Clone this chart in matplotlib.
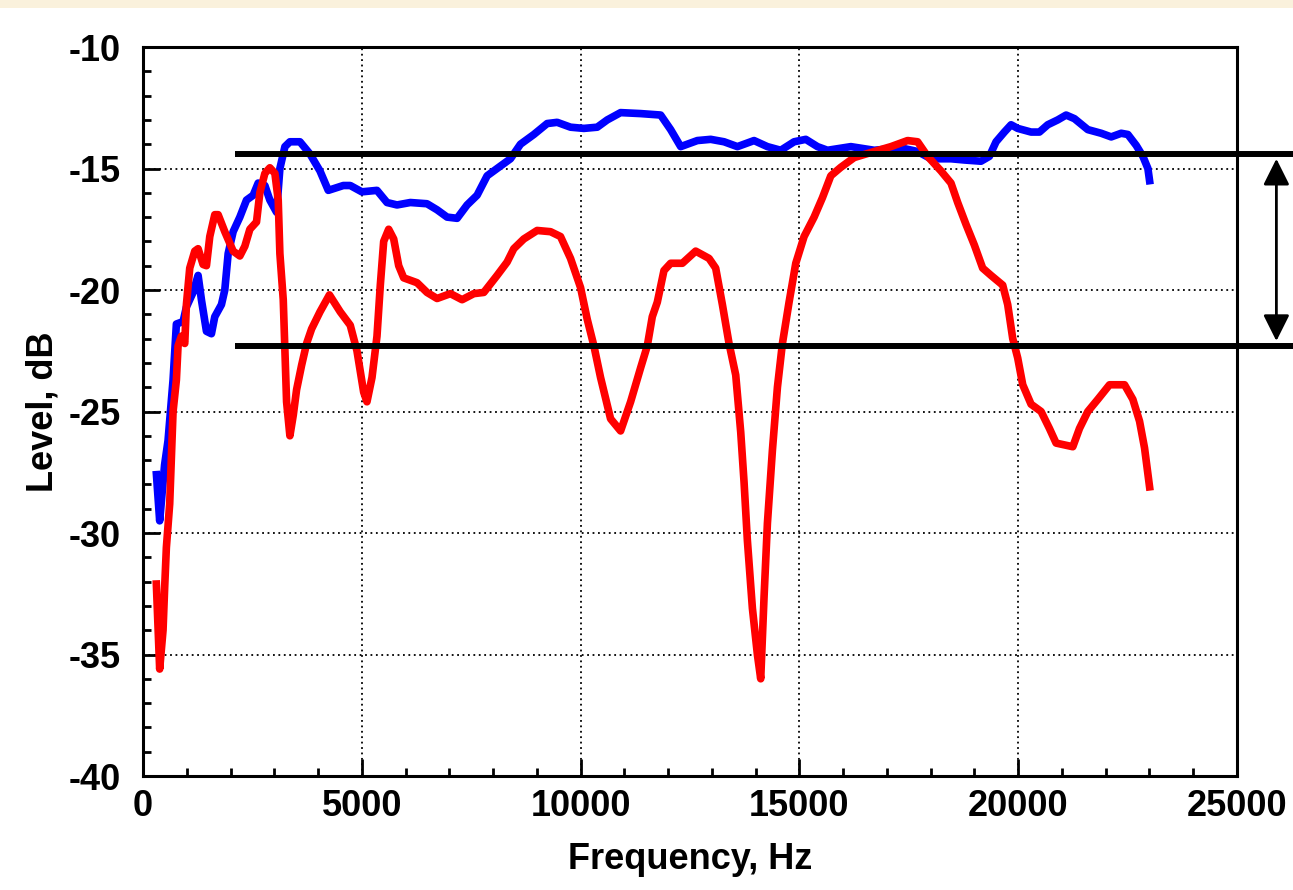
import numpy as np
import matplotlib
matplotlib.use('Agg')
import matplotlib.pyplot as plt
from matplotlib.ticker import MultipleLocator
from matplotlib.patches import Rectangle

plt.rcParams['font.family'] = ['Liberation Sans', 'DejaVu Sans']
plt.rcParams['font.weight'] = 'bold'
plt.rcParams['axes.unicode_minus'] = False

# blue trace (Hz, dB)
blue_f = [307, 381, 493, 572, 687, 763, 916, 992, 1144, 1259, 1335, 1450, 1564, 1640,
          1793, 1869, 1946, 2060, 2213, 2365, 2518, 2632, 2785, 2899, 3052, 3128, 3243,
          3357, 3586, 3815, 4044, 4234, 4578, 4736, 5000, 5347, 5576, 5805, 6109, 6490,
          6720, 6949, 7178, 7406, 7635, 7864, 8168, 8397, 8626, 8931, 9236, 9465, 9770,
          10075, 10380, 10609, 10914, 11371, 11829, 12058, 12287, 12668, 12973, 13278,
          13583, 13964, 14269, 14574, 14879, 15146, 15413, 15642, 16176, 16710, 17320,
          17701, 18006, 18464, 18769, 19150, 19341, 19494, 19684, 19837, 19989, 20294,
          20485, 20675, 20904, 21095, 21286, 21591, 21896, 22125, 22354, 22506, 22697,
          22849, 22964, 23002]
blue_db = [-27.6, -29.5, -27.2, -26.2, -23.7, -21.4, -21.3, -20.7, -20.1, -19.4, -20.4,
           -21.7, -21.8, -21.1, -20.6, -20.0, -18.5, -17.6, -17.0, -16.3, -16.1, -15.6,
           -15.7, -16.3, -16.8, -15.0, -14.1, -13.9, -13.9, -14.4, -15.1, -15.9, -15.7,
           -15.7, -15.96, -15.9, -16.4, -16.5, -16.4, -16.45, -16.7, -17.0, -17.05, -16.5,
           -16.1, -15.3, -14.9, -14.6, -14.0, -13.6, -13.15, -13.1, -13.3, -13.35, -13.3,
           -13.0, -12.7, -12.74, -12.8, -13.4, -14.1, -13.85, -13.8, -13.9, -14.1, -13.85,
           -14.1, -14.25, -13.9, -13.8, -14.1, -14.25, -14.1, -14.25, -14.15, -14.3, -14.6,
           -14.6, -14.65, -14.7, -14.5, -13.9, -13.5, -13.2, -13.35, -13.5, -13.5, -13.2,
           -13.0, -12.8, -12.95, -13.4, -13.55, -13.7, -13.55, -13.6, -14.05, -14.5, -15.0,
           -15.5]

# red trace (Hz, dB)
red_f = [305, 343, 381, 458, 496, 534, 610, 649, 687, 763, 801, 877, 954, 992, 1068, 1183,
         1259, 1373, 1450, 1526, 1640, 1717, 1869, 2060, 2213, 2327, 2442, 2594, 2670,
         2785, 2899, 3014, 3090, 3128, 3205, 3243, 3281, 3357, 3434, 3510, 3624, 3739,
         3853, 4044, 4260, 4508, 4736, 4889, 5042, 5118, 5233, 5347, 5423, 5500, 5614,
         5729, 5843, 5957, 6262, 6490, 6720, 7025, 7292, 7559, 7788, 8092, 8321, 8473,
         8702, 9007, 9312, 9541, 9770, 9999, 10151, 10304, 10456, 10685, 10914, 11143,
         11372, 11524, 11638, 11753, 11905, 12058, 12325, 12630, 12935, 13087, 13240,
         13392, 13545, 13659, 13735, 13811, 13926, 14040, 14116, 14193, 14269, 14383,
         14498, 14612, 14764, 14917, 15107, 15336, 15527, 15718, 15947, 16252, 16710,
         17091, 17472, 17701, 17930, 18235, 18464, 18617, 18807, 18998, 19188, 19379,
         19646, 19760, 19875, 19989, 20104, 20294, 20523, 20714, 20866, 21248, 21400,
         21591, 21820, 22087, 22430, 22620, 22773, 22887, 23002]
red_db = [-32.1, -33.85, -35.6, -34.0, -32.2, -30.6, -28.8, -26.9, -25.0, -23.7, -22.3,
          -21.9, -22.2, -20.6, -19.1, -18.4, -18.3, -18.95, -19.0, -17.8, -16.9, -16.9,
          -17.6, -18.4, -18.6, -18.2, -17.5, -17.2, -16.0, -15.2, -14.97, -15.2, -16.3,
          -18.5, -20.4, -22.5, -24.6, -26.0, -25.15, -24.1, -23.1, -22.2, -21.6, -20.9,
          -20.2, -20.9, -21.45, -22.5, -24.2, -24.6, -23.6, -21.9, -19.8, -18.0, -17.5,
          -17.9, -19.0, -19.5, -19.7, -20.1, -20.35, -20.15, -20.4, -20.15, -20.1, -19.4,
          -18.85, -18.3, -17.9, -17.55, -17.6, -17.8, -18.7, -19.9, -21.2, -22.3, -23.6,
          -25.3, -25.8, -24.6, -23.2, -22.3, -21.1, -20.5, -19.2, -18.9, -18.9, -18.4,
          -18.7, -19.1, -20.6, -22.2, -23.5, -25.85, -27.9, -30.3, -33.1, -35.0, -36.0,
          -32.6, -29.6, -26.6, -24.0, -22.2, -20.5, -18.9, -17.8, -17.0, -16.2, -15.3,
          -14.95, -14.55, -14.3, -14.1, -13.85, -13.9, -14.5, -15.1, -15.6, -16.4, -17.3,
          -18.15, -19.1, -19.4, -19.8, -20.6, -22.0, -22.8, -23.9, -24.7, -25.0, -25.7,
          -26.3, -26.45, -25.7, -25.0, -24.5, -23.9, -23.9, -24.5, -25.4, -26.5, -28.1]

# level band markers
band_levels = [-14.4, -22.3]
band_start = 2100
band_end = 26300
arrow_f = 25900

fig = plt.figure(figsize=(12.93, 8.9), dpi=100)
fig.patches.append(Rectangle((0, 1 - 8 / 890), 1, 8 / 890, transform=fig.transFigure,
                             facecolor='#faf1dc', edgecolor='none', zorder=0))
ax = fig.add_axes([143 / 1293, 114 / 890, 1094 / 1293, 729 / 890])

ax.plot(blue_f, blue_db, color='#0000ff', lw=5.5, zorder=3)
ax.plot(red_f, red_db, color='#ff0000', lw=5.5, zorder=4)

for lev in band_levels:
    ax.plot([band_start, band_end], [lev, lev], color='black', lw=4.3,
            clip_on=False, zorder=5, solid_capstyle='butt')
ax.annotate('', xy=(arrow_f, band_levels[0] - 0.2), xytext=(arrow_f, band_levels[1] + 0.2),
            arrowprops=dict(arrowstyle='<|-|>', color='black', lw=2, mutation_scale=40,
                            shrinkA=0, shrinkB=0),
            annotation_clip=False, zorder=5)

ax.set_xlim(0, 25000)
ax.set_ylim(-40, -10)
ax.xaxis.set_major_locator(MultipleLocator(5000))
ax.xaxis.set_minor_locator(MultipleLocator(1000))
ax.yaxis.set_major_locator(MultipleLocator(5))
ax.yaxis.set_minor_locator(MultipleLocator(1))

ax.grid(True, which='major', color='black', linestyle=(0, (1, 2)), lw=1.3, zorder=1)
ax.tick_params(which='both', direction='in', top=False, right=False, width=2)
ax.tick_params(which='major', length=12, labelsize=26)
ax.tick_params(which='minor', length=6)
ax.tick_params(axis='y', which='major', pad=16)
ax.tick_params(axis='x', which='major', pad=9)
for sp in ax.spines.values():
    sp.set_linewidth(2.2)

ax.set_xlabel('Frequency, Hz', fontsize=26, fontweight='bold', labelpad=13)
ax.set_ylabel('Level, dB', fontsize=26, fontweight='bold', labelpad=6)

plt.savefig('out.png', dpi=100)
